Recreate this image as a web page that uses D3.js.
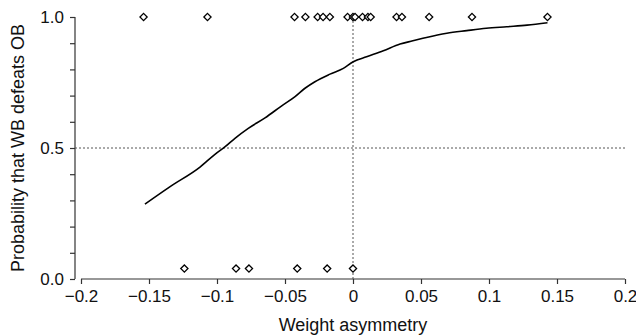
<!DOCTYPE html>
<html>
<head>
<meta charset="utf-8">
<script src="https://cdn.jsdelivr.net/npm/d3@7"></script>
<style>
body { margin: 0; background: #fff; }
text { font-family: Arial, "Liberation Sans", sans-serif; fill: #111; }
</style>
</head>
<body>
<div id="chart"></div>
<script>
var w = 636, h = 336;

// observed contests: WB won (top row) / lost (bottom row)
var winsX = [-0.154, -0.107, -0.043, -0.035, -0.026, -0.022, -0.017, -0.004, 0, 0.0015,
    0.007, 0.011, 0.013, 0.032, 0.036, 0.056, 0.0875, 0.143];
var lossX = [-0.124, -0.086, -0.0765, -0.041, -0.019, 0];
var winY = 1.0, lossY = 0.04;

// fitted probability curve
var curveX = [-0.153, -0.135, -0.1125, -0.1015, -0.094, -0.0868, -0.077, -0.0647, -0.0524,
    -0.0426, -0.0353, -0.028, -0.0169, -0.0071, 0.0002, 0.010, 0.0223, 0.0346, 0.044,
    0.054, 0.069, 0.0836, 0.098, 0.113, 0.128, 0.143];
var curveP = [0.286, 0.351, 0.427, 0.476, 0.505, 0.537, 0.575, 0.615, 0.661,
    0.696, 0.728, 0.753, 0.782, 0.804, 0.829, 0.848, 0.871, 0.897, 0.909,
    0.922, 0.938, 0.948, 0.957, 0.963, 0.969, 0.978];

var xTicks = [-0.2, -0.15, -0.1, -0.05, 0, 0.05, 0.1, 0.15, 0.2];
var yTicks = [0, 0.1, 0.2, 0.3, 0.4, 0.5, 0.6, 0.7, 0.8, 0.9, 1.0];
var yLabels = [0, 0.5, 1.0];

var svg = d3.select("#chart").append("svg")
    .attr("width", w)
    .attr("height", h);

var x = d3.scaleLinear().domain([-0.2, 0.2]).range([81, 625]);
var y = d3.scaleLinear().domain([0, 1]).range([279, 17]);

function fmtX(d) {
    if (d === 0) return "0";
    return (d < 0 ? "\u2212" : "") + String(Math.abs(d));
}

// x axis
var xAxis = svg.append("g")
    .attr("transform", "translate(0,279)")
    .call(d3.axisBottom(x).tickValues(xTicks).tickSize(5).tickPadding(6).tickFormat(fmtX));
xAxis.selectAll("text").style("font-size", "17px");

// y axis (left, a little apart from the x axis)
var yAxis = svg.append("g")
    .attr("transform", "translate(75,0)")
    .call(d3.axisLeft(y).tickValues(yTicks).tickSize(5).tickPadding(6)
        .tickFormat(function(d) { return yLabels.some(function(v) { return Math.abs(v - d) < 1e-9; }) ? d.toFixed(1) : ""; }));
yAxis.selectAll("text").style("font-size", "17px");

svg.selectAll(".domain").attr("stroke", "#333").attr("stroke-width", 1.2);
svg.selectAll(".tick line").attr("stroke", "#333").attr("stroke-width", 1.2);
xAxis.select(".domain").attr("d", "M81,0H625");
yAxis.select(".domain").attr("d", "M0,17V279");

// reference lines
svg.append("line")
    .attr("x1", 75).attr("x2", x(0.2))
    .attr("y1", y(0.5)).attr("y2", y(0.5))
    .attr("stroke", "#555").attr("stroke-dasharray", "2,2");
svg.append("line")
    .attr("x1", x(0)).attr("x2", x(0))
    .attr("y1", y(1)).attr("y2", y(0))
    .attr("stroke", "#555").attr("stroke-dasharray", "2,2");

// fitted curve
var line = d3.line()
    .x(function(d, i) { return x(curveX[i]); })
    .y(function(d) { return y(d); })
    .curve(d3.curveMonotoneX);
svg.append("path")
    .datum(curveP)
    .attr("d", line)
    .attr("fill", "none")
    .attr("stroke", "#000")
    .attr("stroke-width", 1.6);

// diamonds
var diamond = "M0,-3.6L3.6,0L0,3.6L-3.6,0Z";
var pts = winsX.map(function(v) { return { x: v, y: winY }; })
    .concat(lossX.map(function(v) { return { x: v, y: lossY }; }));
svg.append("g").selectAll("path")
    .data(pts)
    .enter().append("path")
    .attr("d", diamond)
    .attr("transform", function(d) { return "translate(" + x(d.x) + "," + y(d.y) + ")"; })
    .attr("fill", "#fff")
    .attr("stroke", "#000")
    .attr("stroke-width", 1.3);

// axis titles
svg.append("text")
    .attr("x", x(0)).attr("y", 331)
    .attr("text-anchor", "middle")
    .style("font-size", "18px")
    .text("Weight asymmetry");
svg.append("text")
    .attr("transform", "translate(24,148) rotate(-90)")
    .attr("text-anchor", "middle")
    .style("font-size", "18px")
    .text("Probability that WB defeats OB");
</script>
</body>
</html>
